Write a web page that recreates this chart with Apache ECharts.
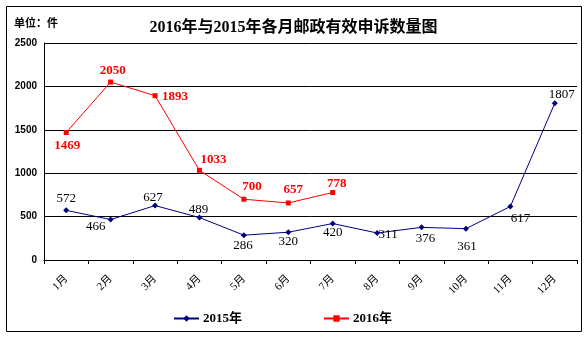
<!DOCTYPE html>
<html>
<head>
<meta charset="utf-8">
<script src="https://cdn.jsdelivr.net/npm/echarts@6/dist/echarts.min.js"></script>
<style>
  html, body { margin: 0; padding: 0; background: #fff; }
  #chart { width: 587px; height: 343px; }
</style>
</head>
<body>
<div id="chart"></div>
<script>
// Monthly counts of valid postal complaints
const months = ['1月', '2月', '3月', '4月', '5月', '6月', '7月', '8月', '9月', '10月', '11月', '12月'];
const values2015 = [572, 466, 627, 489, 286, 320, 420, 311, 376, 361, 617, 1807];
const values2016 = [1469, 2050, 1893, 1033, 700, 657, 778];
const seriesNames = ['2015年', '2016年'];

// Label placement (pixel shift of each value label from its point)
const shift2015 = [[0, -12], [-15, 7], [-2, -8], [-1, -8], [-1, 10], [0, 9], [0, 9], [11, 2], [4, 11], [1, 18], [10, 12], [7, -9]];
const shift2016 = [[1, 13], [2, -11], [20, 1], [14, -11], [8, -13], [5, -13], [4, -9]];

const serifFont = '"Liberation Serif", "Times New Roman", "Noto Sans CJK SC", serif';
const cjkFont = '"Liberation Serif", "Noto Sans CJK SC", serif';

function withLabels(values, shifts) {
  return values.map((v, i) => ({
    value: v,
    label: { position: 'inside', offset: shifts[i] }
  }));
}

const chart = echarts.init(document.getElementById('chart'), null, { renderer: 'canvas' });

chart.setOption({
  animation: false,
  backgroundColor: '#fff',
  title: {
    text: '2016年与2015年各月邮政有效申诉数量图',
    left: 'center',
    top: 15,
    textStyle: { fontFamily: cjkFont, fontSize: 16, fontWeight: 'bold', color: '#000' }
  },
  graphic: [
    {
      type: 'rect',
      shape: { x: 6.5, y: 6.5, width: 575, height: 325 },
      style: { fill: 'none', stroke: '#000', lineWidth: 1 },
      silent: true
    },
    {
      type: 'text',
      left: 14,
      top: 19,
      style: { text: '单位：件', font: 'bold 11px ' + cjkFont, fill: '#000' }
    }
  ],
  legend: {
    left: 168,
    top: 307,
    itemWidth: 25,
    itemHeight: 8,
    itemGap: 81,
    textStyle: { fontFamily: cjkFont, fontSize: 13, fontWeight: 'bold', color: '#000', padding: [0, 0, 0, -1] },
    data: seriesNames
  },
  grid: { left: 44, right: 10, top: 43, bottom: 83 },
  xAxis: {
    type: 'category',
    data: months,
    boundaryGap: true,
    axisLine: { lineStyle: { color: '#000', width: 1 } },
    axisTick: { show: true, alignWithLabel: false, length: 4, lineStyle: { color: '#000' } },
    axisLabel: {
      rotate: 45,
      interval: 0,
      margin: 17,
      fontSize: 11,
      color: '#000',
      fontFamily: cjkFont
    }
  },
  yAxis: {
    type: 'value',
    min: 0,
    max: 2500,
    interval: 500,
    axisLine: { show: true, lineStyle: { color: '#000', width: 1 } },
    axisTick: { show: false },
    splitLine: { show: true, lineStyle: { color: '#000', width: 1 } },
    axisLabel: {
      margin: 7,
      fontSize: 10,
      fontWeight: 'bold',
      color: '#000',
      fontFamily: '"Liberation Sans", Arial, sans-serif',
      formatter: (v) => String(v)
    }
  },
  series: [
    {
      name: seriesNames[0],
      type: 'line',
      data: withLabels(values2015, shift2015),
      symbol: 'diamond',
      symbolSize: 6,
      itemStyle: { color: '#000080' },
      lineStyle: { color: '#000080', width: 1 },
      label: {
        show: true,
        color: '#000',
        fontSize: 13,
        fontFamily: serifFont
      },
      z: 3
    },
    {
      name: seriesNames[1],
      type: 'line',
      data: withLabels(values2016, shift2016),
      symbol: 'rect',
      symbolSize: 5,
      itemStyle: { color: '#ff0000' },
      lineStyle: { color: '#ff0000', width: 1 },
      label: {
        show: true,
        color: '#ff0000',
        fontSize: 13,
        fontWeight: 'bold',
        fontFamily: serifFont
      },
      z: 4
    }
  ]
});
</script>
</body>
</html>
